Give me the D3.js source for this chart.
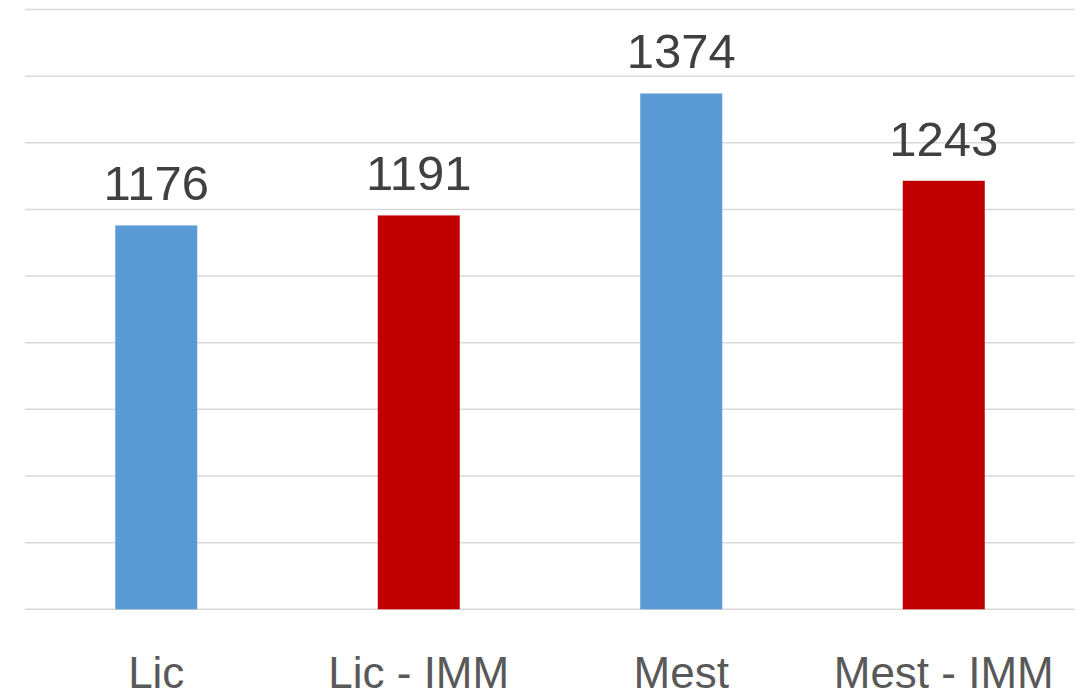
<!DOCTYPE html>
<html><head><meta charset="utf-8">
<script src="https://cdn.jsdelivr.net/npm/d3@7"></script>
<style>body{margin:0;background:#fff}svg{display:block}</style>
</head><body>
<svg id="chart" width="1087" height="690"></svg>
<script>
const categories = ["Lic", "Lic - IMM", "Mest", "Mest - IMM"];
const values = [1176, 1191, 1374, 1243];
const barColors = ["#5B9BD5", "#C00000", "#5B9BD5", "#C00000"];
const yTicks = [600, 700, 800, 900, 1000, 1100, 1200, 1300, 1400, 1500];

const svg = d3.select("#chart");
const x = d3.scaleBand().domain(categories).range([25, 1075]).paddingInner(0.6876).paddingOuter(0.3438);
const y = d3.scaleLinear().domain([600, 1500]).range([609.3, 9.5]);

svg.append("g").selectAll("line").data(yTicks).join("line")
  .attr("x1", 25).attr("x2", 1075)
  .attr("y1", d => y(d)).attr("y2", d => y(d))
  .attr("stroke", "#d9d9d9").attr("stroke-width", 1.5);

svg.append("g").selectAll("rect").data(values).join("rect")
  .attr("x", (d, i) => x(categories[i]))
  .attr("width", x.bandwidth())
  .attr("y", d => y(d))
  .attr("height", d => y(600) - y(d))
  .attr("fill", (d, i) => barColors[i]);

svg.append("g").selectAll("text").data(values).join("text")
  .attr("x", (d, i) => x(categories[i]) + x.bandwidth() / 2)
  .attr("y", d => y(d) - 25)
  .attr("text-anchor", "middle")
  .attr("font-family", "Liberation Sans, Arial, sans-serif")
  .attr("font-size", 49)
  .attr("fill", "#404040")
  .text(d => d);

svg.append("g").selectAll("text").data(categories).join("text")
  .attr("x", d => x(d) + x.bandwidth() / 2)
  .attr("y", 688)
  .attr("text-anchor", "middle")
  .attr("font-family", "Liberation Sans, Arial, sans-serif")
  .attr("font-size", 44)
  .attr("fill", "#595959")
  .text(d => d);
</script>
</body></html>
